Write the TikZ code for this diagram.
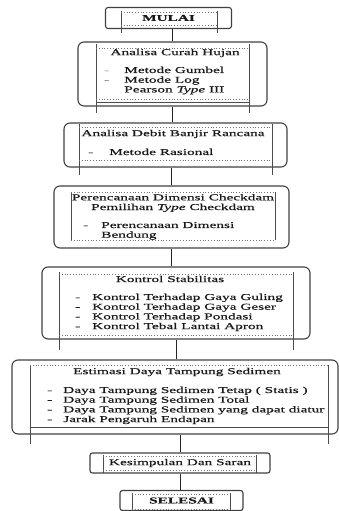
\documentclass[tikz,border=0pt]{standalone}
\usepackage{fontspec}
\setmainfont{Liberation Serif}[FakeStretch=1.7, FakeBold=0.6]

\tikzset{
    outerbox/.style={draw=black!75, line width=1.1pt, rounded corners=6pt, inner sep=0pt},
    smallbox/.style={outerbox, rounded corners=2.5pt, font=\fontsize{9}{9.7}\selectfont, text=black!90},
    innerside/.style={draw=black!70, line width=0.6pt},
    inneredge/.style={draw=black!55, dotted, line width=0.8pt},
    boxtitle/.style={font=\fontsize{9}{9.7}\selectfont, text=black!90, inner sep=0pt},
    itemlist/.style={boxtitle, anchor=north west, align=left},
    link/.style={draw=black!85, line width=1pt},
}

\begin{document}
\begin{tikzpicture}[x=1pt,y=-1pt]
        \useasboundingbox (0,0) rectangle (338,511);
        % outer boxes
        \node[smallbox, minimum width=126pt, minimum height=21pt] (mulai) at (168.5,18) {\textbf{MULAI}};
        \node[outerbox, minimum width=189pt, minimum height=64pt] (curah) at (172.5,74) {};
        \node[outerbox, minimum width=223pt, minimum height=44pt] (debit) at (175.5,145) {};
        \node[outerbox, minimum width=235pt, minimum height=62pt] (dimensi) at (171.5,217) {};
        \node[outerbox, minimum width=268pt, minimum height=72pt] (stabil) at (176,303) {};
        \node[outerbox, minimum width=326pt, minimum height=74pt] (sedimen) at (175,397) {};
        \node[smallbox, minimum width=180pt, minimum height=20pt] (simpul) at (180,463) {Kesimpulan Dan Saran};
        \node[smallbox, minimum width=123pt, minimum height=20pt] (selesai) at (181.5,500.5) {\textbf{SELESAI}};
        % inner frames
        \draw[innerside] (121,11) -- (121,33) (217,11) -- (217,33);
        \draw[inneredge] (121,12) -- (217,12) (121,25) -- (217,25);
        \draw[innerside] (96,44) -- (96,113) (249,44) -- (249,113);
        \draw[inneredge] (96,48) -- (249,48) (96,99) -- (249,99);
        \draw[innerside] (96,102) -- (249,102);
        \draw[innerside] (79,124) -- (79,175) (272,124) -- (272,175);
        \draw[inneredge] (79,127) -- (272,127) (79,160) -- (272,160);
        \draw[innerside] (71,192) -- (71,240) (275,192) -- (275,240);
        \draw[inneredge] (71,192) -- (275,192) (71,240) -- (275,240);
        \draw[innerside] (59,272) -- (59,350) (293,272) -- (293,350);
        \draw[inneredge] (59,274) -- (293,274) (59,335) -- (293,335);
        \draw[innerside] (30,365) -- (30,444) (328,365) -- (328,444);
        \draw[inneredge] (30,365) -- (328,365);
        \draw[innerside] (30,427) -- (328,427);
        \draw[innerside] (103,455) -- (103,473) (256,455) -- (256,473);
        \draw[inneredge] (103,456) -- (256,456) (103,470) -- (256,470);
        \draw[innerside] (132,493) -- (132,511) (230,493) -- (230,511);
        \draw[inneredge] (132,494) -- (230,494) (132,509) -- (230,509);
        % texts
        \node[boxtitle] (curahT) at (175,53) {Analisa Curah Hujan};
        \node[itemlist] (curahL) at (104,66) {\begin{tabular}{@{}l@{\hspace{15pt}}l@{}}
            \textcolor{black!40}{-} & Metode Gumbel\\
            \textcolor{black!40}{-} & Metode Log\\
             & Pearson \textit{Type} III
        \end{tabular}};
        \node[boxtitle] (debitT) at (173,134) {Analisa Debit Banjir Rancana};
        \node[itemlist] (debitL) at (88,148) {\begin{tabular}{@{}l@{\hspace{16pt}}l@{}}
            - & Metode Rasional
        \end{tabular}};
        \node[boxtitle, align=center] (dimensiT) at (173,203) {Perencanaan Dimensi Checkdam\\Pemilihan \textit{Type} Checkdam};
        \node[itemlist] (dimensiL) at (83,221) {\begin{tabular}{@{}l@{\hspace{13pt}}l@{}}
            - & Perencanaan Dimensi\\
              & Bendung
        \end{tabular}};
        \node[boxtitle] (stabilT) at (170,279) {Kontrol Stabilitas};
        \node[itemlist] (stabilL) at (75,293) {\begin{tabular}{@{}l@{\hspace{12pt}}l@{}}
            - & Kontrol Terhadap Gaya Guling\\
            - & Kontrol Terhadap Gaya Geser\\
            - & Kontrol Terhadap Pondasi\\
            - & Kontrol Tebal Lantai Apron
        \end{tabular}};
        \node[boxtitle] (sedimenT) at (177,372) {Estimasi Daya Tampung Sedimen};
        \node[itemlist] (sedimenL) at (47,386) {\begin{tabular}{@{}l@{\hspace{11pt}}l@{}}
            - & Daya Tampung Sedimen Tetap ( Statis )\\
            - & Daya Tampung Sedimen Total\\
            - & Daya Tampung  Sedimen yang dapat diatur\\
            - & Jarak Pengaruh Endapan
        \end{tabular}};
        % connectors
        \draw[link] (curah.north) -- (curah.north |- mulai.south);
        \draw[link] (curah.south) -- (curah.south |- debit.north);
        \draw[link] (dimensi.north) -- (dimensi.north |- debit.south);
        \draw[link] (dimensi.south) -- (dimensi.south |- stabil.north);
        \draw[link] (stabil.south) -- (stabil.south |- sedimen.north);
        \draw[link] (simpul.north) -- (simpul.north |- sedimen.south);
        \draw[link] (simpul.south) -- (simpul.south |- selesai.north);
    \end{tikzpicture}
\end{document}
